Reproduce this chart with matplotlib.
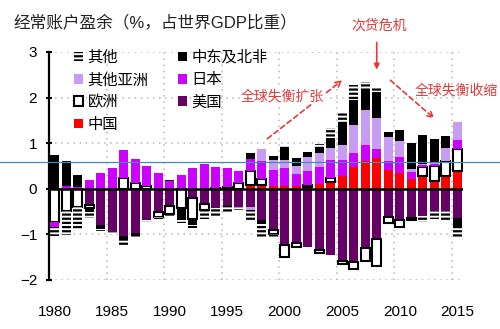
import matplotlib
matplotlib.use('Agg')
import matplotlib.pyplot as plt
import numpy as np
from matplotlib.lines import Line2D

plt.rcParams['font.family'] = ['Liberation Sans', 'Noto Sans CJK SC', 'DejaVu Sans']
plt.rcParams['hatch.linewidth'] = 1.6

years = list(range(1980, 2016))

china = [0, 0, 0, 0, 0, 0, 0, 0, 0, 0,
         0, 0, 0, 0, 0, 0, 0, 0.09, 0.09, 0.07,
         0.07, 0.06, 0.05, 0.11, 0.14, 0.29, 0.47, 0.61, 0.67, 0.41,
         0.34, 0.22, 0.27, 0.17, 0.27, 0.40]
usa = [0, 0, 0, -0.35, -0.80, -0.95, -1.03, -0.98, -0.67, -0.51,
       -0.37, 0, -0.21, -0.34, -0.42, -0.36, -0.41, -0.40, -0.69, -0.90,
       -1.23, -1.20, -1.28, -1.35, -1.45, -1.59, -1.60, -1.29, -1.10, -0.62,
       -0.69, -0.63, -0.59, -0.48, -0.49, -0.65]
europe = [-0.73, -0.49, -0.40, -0.07, 0, 0, 0.24, 0.13, 0.07, -0.10,
          -0.18, -0.42, -0.45, -0.12, 0.02, 0.05, 0.12, 0.29, 0.13, -0.09,
          -0.27, -0.07, 0.04, -0.05, 0.10, -0.07, -0.17, -0.30, -0.59, -0.13,
          -0.14, -0.05, 0.21, 0.33, 0.33, 0.47]
japan = [-0.10, 0.07, 0.05, 0.20, 0.34, 0.46, 0.60, 0.52, 0.42, 0.34,
         0.17, 0.30, 0.46, 0.55, 0.46, 0.41, 0.26, 0.27, 0.38, 0.34,
         0.39, 0.27, 0.31, 0.36, 0.39, 0.34, 0.32, 0.36, 0.21, 0.21,
         0.35, 0.14, 0.05, 0.04, 0.02, 0.20]
other_asia = [0, 0, 0, 0, 0, 0, 0, 0, 0, 0,
              0, 0, 0, 0, 0, 0, 0, -0.07, 0.27, 0.22,
              0.17, 0.18, 0.29, 0.31, 0.27, 0.32, 0.60, 0.76, 0.67, 0.52,
              0.35, 0.08, 0.01, 0.05, 0.28, 0.40]
mena = [0.75, 0.55, 0.26, -0.08, -0.08, 0, -0.09, -0.05, 0, 0,
        0.03, -0.26, -0.14, -0.03, 0, 0, 0, 0.13, -0.07, 0.08,
        0.25, 0.16, 0.11, 0.14, 0.22, 0.49, 0.55, 0.46, 0.57, 0.11,
        0.26, 0.57, 0.65, 0.50, 0.26, -0.18]
other = [-0.20, -0.52, -0.50, -0.13, -0.05, -0.05, -0.13, -0.04, -0.06, -0.06,
         -0.04, -0.07, -0.07, -0.18, -0.20, -0.14, -0.05, -0.22, -0.30, -0.07,
         0.05, 0, 0, 0.06, 0.21, 0.25, 0.33, 0.15, 0.08, 0,
         0, 0, -0.14, -0.18, -0.22, -0.24]

# stacking order from zero outward
series = [
    ('中国', china, dict(color='#ff0000', linewidth=0)),
    ('美国', usa, dict(color='#660066', linewidth=0)),
    ('欧洲', europe, dict(facecolor='white', edgecolor='black', linewidth=1.5)),
    ('日本', japan, dict(color='#cc00ff', linewidth=0)),
    ('其他亚洲', other_asia, dict(color='#c89cf2', linewidth=0)),
    ('中东及北非', mena, dict(color='black', linewidth=0)),
    ('其他', other, dict(facecolor='white', edgecolor='black', linewidth=0, hatch='----')),
]

fig = plt.figure(figsize=(5, 3.29), dpi=100)
ax = fig.add_axes([0.098, 0.149, 0.828, 0.693])

x = np.array(years)
pos = np.zeros(len(years))
neg = np.zeros(len(years))
handles = {}
for name, vals, st in series:
    v = np.array(vals, dtype=float)
    bottom = np.where(v >= 0, pos, neg)
    bars = ax.bar(x, v, width=0.76, bottom=bottom, zorder=2, label=name, **st)
    handles[name] = bars
    pos = pos + np.where(v > 0, v, 0)
    neg = neg + np.where(v < 0, v, 0)

ax.set_xlim(1979.5, 2015.5)
ax.set_ylim(-2, 3)

# grid
for yv in [-2, -1, 1, 2, 3]:
    ax.axhline(yv, color='#b8b8b8', lw=1.1, ls=(0, (1, 3)), zorder=0)
for xv in np.arange(1984.5, 2015, 5):
    ax.axvline(xv, color='#b8b8b8', lw=1.1, ls=(0, (1, 3)), zorder=0)
ax.axhline(0, color='black', lw=1.8, zorder=3)

for s in ['top', 'right', 'bottom']:
    ax.spines[s].set_visible(False)
ax.spines['left'].set_linewidth(1.6)
ax.set_yticks([-2, -1, 0, 1, 2, 3])
ax.tick_params(axis='y', direction='inout', length=5, width=1.5, labelsize=11, pad=6)
ax.set_xticks(list(range(1980, 2016, 5)))
ax.tick_params(axis='x', length=0, labelsize=11, pad=18)

order = ['其他', '其他亚洲', '欧洲', '中国', '中东及北非', '日本', '美国']
leg = ax.legend([handles[n] for n in order], order, ncol=2, frameon=False,
                loc='upper left', bbox_to_anchor=(0.045, 1.04), fontsize=11,
                handlelength=0.6, handleheight=0.6, handletextpad=0.3,
                columnspacing=1.9, labelspacing=0.35, borderaxespad=0,
                prop={'family': ['Noto Sans CJK SC'], 'size': 11})

fig.text(0.026, 1 - 22 / 329, '经常账户盈余（%，占世界GDP比重）', fontsize=12,
         va='center', ha='left', color='#222222')

red = '#e8383a'
ax.annotate('', xy=(2005.2, 2.42), xytext=(1998.3, 1.06),
            arrowprops=dict(arrowstyle='->', color=red, lw=1.2, ls=(0, (3, 2))), zorder=4)
ax.text(1999.8, 2.02, '全球失衡扩张', color=red, fontsize=10, ha='center', va='center',
        family=['Noto Sans CJK SC'], zorder=5,
        bbox=dict(facecolor='white', edgecolor='none', pad=0.5))
ax.text(2008.2, 3.58, '次贷危机', color=red, fontsize=10, ha='center', va='center',
        family=['Noto Sans CJK SC'], clip_on=False)
ax.annotate('', xy=(2008.0, 2.55), xytext=(2008.0, 3.27),
            arrowprops=dict(arrowstyle='-|>', color=red, lw=1.2, mutation_scale=8),
            annotation_clip=False)
ax.annotate('', xy=(2013.2, 1.50), xytext=(2009.0, 2.42),
            arrowprops=dict(arrowstyle='->', color=red, lw=1.2, ls=(0, (3, 2))), zorder=4)
ax.text(2014.9, 2.15, '全球失衡收缩', color=red, fontsize=10, ha='center', va='center',
        family=['Noto Sans CJK SC'], clip_on=False)

# thin blue line across the picture
fig.add_artist(Line2D([0, 1], [1 - 162 / 329, 1 - 162 / 329], transform=fig.transFigure,
                      color='#3c8dbc', lw=0.9, zorder=10))

fig.savefig('out.png', dpi=100)
